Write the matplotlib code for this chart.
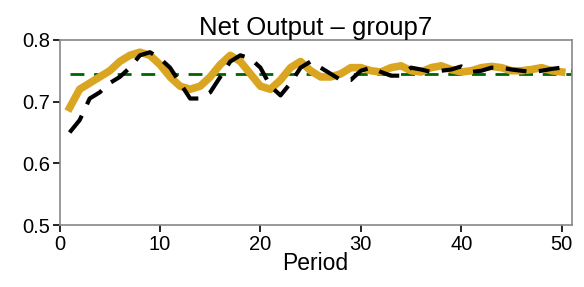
import matplotlib
matplotlib.use("Agg")
from matplotlib import pyplot as plt

plt.rcParams['font.family'] = ['Liberation Sans', 'DejaVu Sans']

# data
period_gold = list(range(1, 51))
output_gold = [0.69, 0.72, 0.73, 0.74, 0.75, 0.765, 0.775, 0.78, 0.775, 0.76,
               0.74, 0.725, 0.72, 0.725, 0.74, 0.76, 0.775, 0.765, 0.745, 0.725,
               0.72, 0.735, 0.755, 0.765, 0.75, 0.74, 0.74, 0.745, 0.755, 0.755,
               0.75, 0.748, 0.755, 0.758, 0.75, 0.748, 0.755, 0.758, 0.752, 0.748,
               0.75, 0.755, 0.757, 0.755, 0.75, 0.75, 0.752, 0.755, 0.75, 0.748]

period_black = list(range(1, 52))
output_black = [0.65, 0.67, 0.705, 0.715, 0.73, 0.74, 0.755, 0.775, 0.78, 0.77,
                0.755, 0.73, 0.705, 0.705, 0.715, 0.74, 0.765, 0.775, 0.77, 0.755,
                0.725, 0.71, 0.73, 0.755, 0.765, 0.755, 0.745, 0.735, 0.735, 0.75,
                0.755, 0.748, 0.742, 0.742, 0.755, 0.752, 0.748, 0.75, 0.752, 0.757,
                0.748, 0.75, 0.755, 0.755, 0.752, 0.75, 0.748, 0.75, 0.753, 0.755,
                0.75]

steady_x = [1, 51]
steady_y = [0.745, 0.745]

fig = plt.figure(figsize=(5.84, 2.87), dpi=100)
ax = fig.add_axes([0.102, 0.216, 0.877, 0.645])

ax.plot(steady_x, steady_y, color='#006400', lw=2, dashes=(5, 3.5), zorder=1)
ax.plot(period_gold, output_gold, color='#DAA520', lw=5.5, zorder=2)
ax.plot(period_black, output_black, color='black', lw=3, dashes=(5, 3), zorder=3)

ax.set_xlim(0, 51)
ax.set_ylim(0.5, 0.8)
ax.set_xticks([0, 10, 20, 30, 40, 50])
ax.set_yticks([0.5, 0.6, 0.7, 0.8])
ax.tick_params(direction='out', length=5, width=1.2, labelsize=14.5, color='black', pad=2)
for s in ax.spines.values():
    s.set_color('#888888')
    s.set_linewidth(1.2)

ax.set_title("Net Output \u2013 group7", fontsize=18.5, pad=3)
ax.set_xlabel("Period", fontsize=16.5, labelpad=-1)

fig.savefig("out.png", dpi=100)
